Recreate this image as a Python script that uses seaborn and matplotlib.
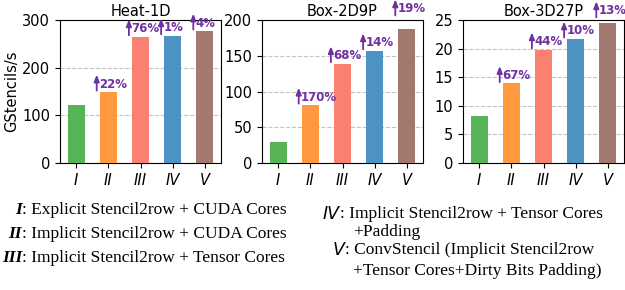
import matplotlib
matplotlib.use("Agg")
import matplotlib.pyplot as plt
import matplotlib.transforms as mtransforms
import seaborn as sns

methods = ["I", "II", "III", "IV", "V"]
colors = ["#56b356", "#ff983e", "#fa8072", "#4c92c3", "#a3786f"]

titles = ["Heat-1D", "Box-2D9P", "Box-3D27P"]
heat_1d = [122, 149, 265, 267, 277]
box_2d9p = [29, 81, 139, 157, 187]
box_3d27p = [8.2, 13.9, 19.8, 21.7, 24.5]
speedups = [
    ["22%", "76%", "1%", "4%"],
    ["170%", "68%", "14%", "19%"],
    ["67%", "44%", "10%", "13%"],
]
ylims = [300, 200, 25]
yticks = [[0, 100, 200, 300], [0, 50, 100, 150, 200], [0, 5, 10, 15, 20, 25]]

legend_left = [
    ("I", ": Explicit Stencil2row + CUDA Cores"),
    ("II", ": Implicit Stencil2row + CUDA Cores"),
    ("III", ": Implicit Stencil2row + Tensor Cores"),
]
legend_right_1 = ("IV", ": Implicit Stencil2row + Tensor Cores", "+Padding")
legend_right_2 = ("V", ": ConvStencil (Implicit Stencil2row", "+Tensor Cores+Dirty Bits Padding)")

W, H = 625, 290
purple = "#7030a0"

fig = plt.figure(figsize=(W / 100, H / 100), dpi=100)
plt.rcParams['font.family'] = ['DejaVu Sans']

lefts = [60, 262, 463]
width = 161
bottom, top = 163, 20
# extra lift (points) for the last label of two panels, which sits higher in the original
extra = {(1, 4): 9, (2, 4): 3}

data = [heat_1d, box_2d9p, box_3d27p]
for k, vals in enumerate(data):
    ax = fig.add_axes([lefts[k] / W, 1 - bottom / H, width / W, (bottom - top) / H])
    sns.barplot(x=methods, y=vals, hue=methods, palette=colors, width=0.53,
                saturation=1, legend=False, ax=ax, zorder=3)
    ax.set_xlim(-0.5, 4.5)
    ax.set_ylim(0, ylims[k])
    ax.set_yticks(yticks[k])
    ax.tick_params(labelsize=10.5)
    for lab in ax.get_xticklabels():
        lab.set_fontstyle("italic")
    ax.yaxis.grid(True, linestyle="--", color="#c4c4c4", linewidth=0.8, zorder=0)
    ax.set_axisbelow(True)
    ax.set_title(titles[k], fontsize=10.5, pad=3)
    ax.set_xlabel("")
    if k == 0:
        ax.set_ylabel("GStencils/s", fontsize=10.5, labelpad=2)

    for i in range(1, 5):
        v = vals[i]
        lift = extra.get((k, i), 0)
        tail = mtransforms.offset_copy(ax.transData, fig=fig, y=1 + lift, units="points")
        tip = mtransforms.offset_copy(ax.transData, fig=fig, y=12.5 + lift, units="points")
        ax.annotate("", xy=(i - 0.36, v), xycoords=tip, xytext=(i - 0.36, v), textcoords=tail,
                    arrowprops=dict(arrowstyle="-|>,head_length=0.4,head_width=0.16",
                                    color=purple, lw=1.3, shrinkA=0, shrinkB=0),
                    annotation_clip=False)
        ax.text(i - 0.29, v, speedups[k][i - 1], transform=tail, color=purple,
                fontsize=8.5, fontweight="bold", ha="left", va="bottom", clip_on=False)

serif = ["Liberation Serif", "DejaVu Serif"]
fs = 12.5
ys = [210, 234, 258]
for (num, txt), y in zip(legend_left, ys):
    fig.text(22 / W, 1 - y / H, num, family=serif, style="italic", fontweight="bold",
             fontsize=fs, ha="right", va="center")
    fig.text(22 / W, 1 - y / H, txt, family=serif, fontsize=fs, ha="left", va="center")

num, l1, l2 = legend_right_1
fig.text(340 / W, 1 - 214 / H, num, family="DejaVu Sans", style="italic", fontsize=fs,
         ha="right", va="center")
fig.text(340 / W, 1 - 214 / H, l1, family=serif, fontsize=fs, ha="left", va="center")
fig.text(353 / W, 1 - 232 / H, l2, family=serif, fontsize=fs, ha="left", va="center")

num, l1, l2 = legend_right_2
fig.text(345 / W, 1 - 250 / H, num, family="DejaVu Sans", style="italic", fontsize=fs,
         ha="right", va="center")
fig.text(345 / W, 1 - 250 / H, l1, family=serif, fontsize=fs, ha="left", va="center")
fig.text(353 / W, 1 - 271 / H, l2, family=serif, fontsize=fs, ha="left", va="center")

fig.savefig("out.png", dpi=100)
